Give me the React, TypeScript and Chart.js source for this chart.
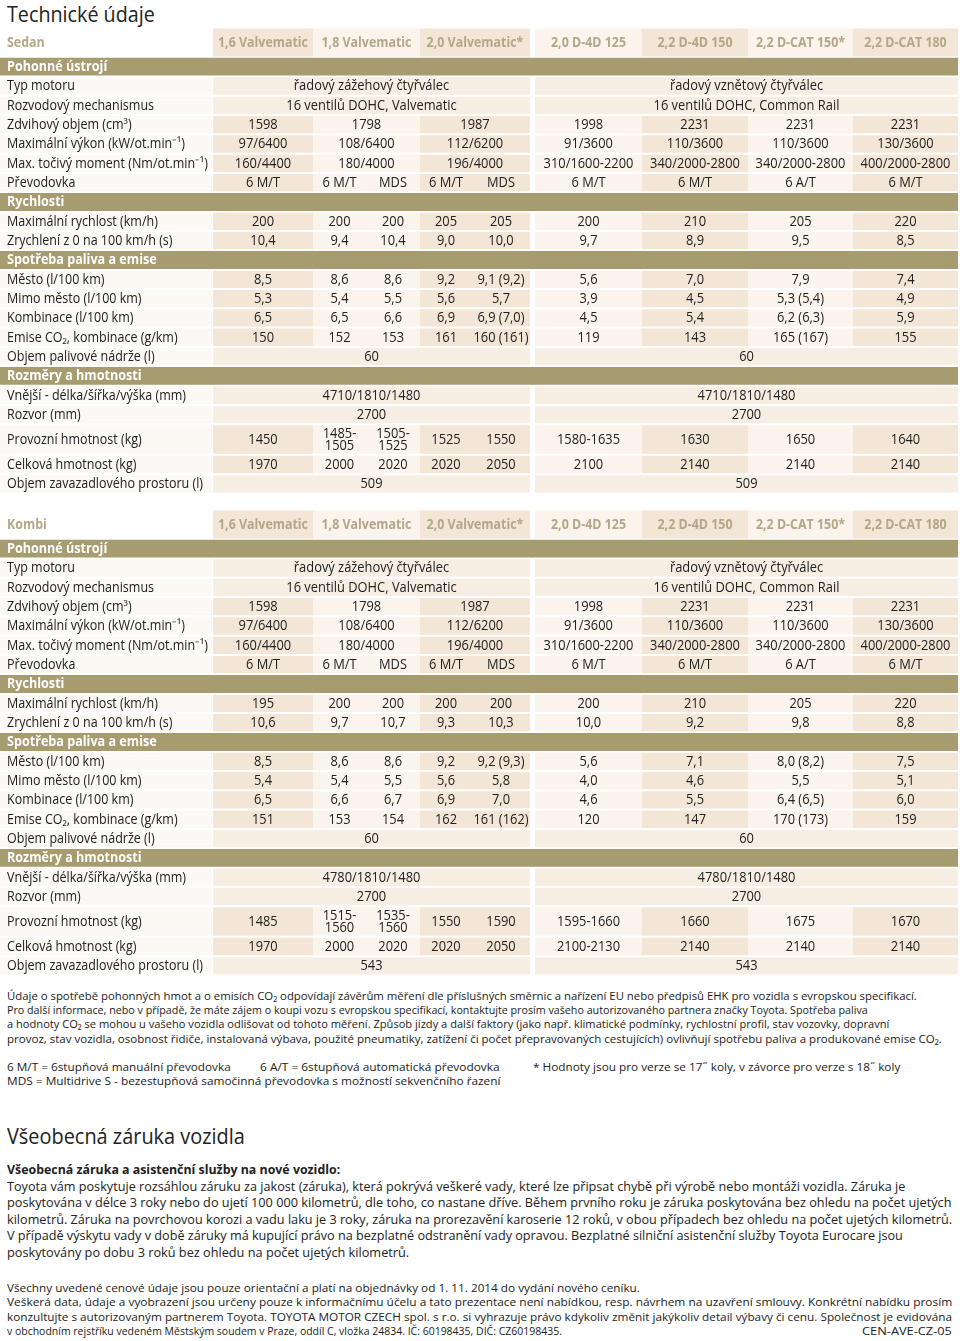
import React, { useEffect, useLayoutEffect, useRef } from "react";
import { Chart, registerables } from "chart.js";
Chart.register(...registerables);

// ---------------- data ----------------
const modelHeaders = ["1,6 Valvematic", "1,8 Valvematic", "2,0 Valvematic*", "2,0 D-4D 125", "2,2 D-4D 150", "2,2 D-CAT 150*", "2,2 D-CAT 180"];

const rowLabels = [
  "Pohonné ústrojí",
  "Typ motoru",
  "Rozvodový mechanismus",
  "Zdvihový objem (cm³)",
  "Maximální výkon (kW/ot.min⁻¹)",
  "Max. točivý moment (Nm/ot.min⁻¹)",
  "Převodovka",
  "Rychlosti",
  "Maximální rychlost (km/h)",
  "Zrychlení z 0 na 100 km/h (s)",
  "Spotřeba paliva a emise",
  "Město (l/100 km)",
  "Mimo město (l/100 km)",
  "Kombinace (l/100 km)",
  "Emise CO₂, kombinace (g/km)",
  "Objem palivové nádrže (l)",
  "Rozměry a hmotnosti",
  "Vnější - délka/šířka/výška (mm)",
  "Rozvor (mm)",
  "Provozní hmotnost (kg)",
  "Celková hmotnost (kg)",
  "Objem zavazadlového prostoru (l)",
];
const sectionLabels = ["Pohonné ústrojí", "Rychlosti", "Spotřeba paliva a emise", "Rozměry a hmotnosti"];
const tallLabels = ["Provozní hmotnost (kg)"];

// value slots: 1,6 | 1,8 M/T | 1,8 MDS | 2,0 M/T | 2,0 MDS | 2,0 D-4D 125 | 2,2 D-4D 150 | 2,2 D-CAT 150* | 2,2 D-CAT 180
// null = merged with the cell on its left
const typMotoru = ["řadový zážehový čtyřválec", null, null, null, null, "řadový vznětový čtyřválec", null, null, null];
const rozvodovyMechanismus = ["16 ventilů DOHC, Valvematic", null, null, null, null, "16 ventilů DOHC, Common Rail", null, null, null];
const zdvihovyObjem = ["1598", "1798", null, "1987", null, "1998", "2231", "2231", "2231"];
const maxVykon = ["97/6400", "108/6400", null, "112/6200", null, "91/3600", "110/3600", "110/3600", "130/3600"];
const maxMoment = ["160/4400", "180/4000", null, "196/4000", null, "310/1600-2200", "340/2000-2800", "340/2000-2800", "400/2000-2800"];
const prevodovka = ["6 M/T", "6 M/T", "MDS", "6 M/T", "MDS", "6 M/T", "6 M/T", "6 A/T", "6 M/T"];
const objemNadrze = ["60", null, null, null, null, "60", null, null, null];
const rozvor = ["2700", null, null, null, null, "2700", null, null, null];

const sedanMaxRychlost = ["200", "200", "200", "205", "205", "200", "210", "205", "220"];
const sedanZrychleni = ["10,4", "9,4", "10,4", "9,0", "10,0", "9,7", "8,9", "9,5", "8,5"];
const sedanMesto = ["8,5", "8,6", "8,6", "9,2", "9,1 (9,2)", "5,6", "7,0", "7,9", "7,4"];
const sedanMimoMesto = ["5,3", "5,4", "5,5", "5,6", "5,7", "3,9", "4,5", "5,3 (5,4)", "4,9"];
const sedanKombinace = ["6,5", "6,5", "6,6", "6,9", "6,9 (7,0)", "4,5", "5,4", "6,2 (6,3)", "5,9"];
const sedanEmise = ["150", "152", "153", "161", "160 (161)", "119", "143", "165 (167)", "155"];
const sedanRozmery = ["4710/1810/1480", null, null, null, null, "4710/1810/1480", null, null, null];
const sedanProvozni = ["1450", "1485-\n1505", "1505-\n1525", "1525", "1550", "1580-1635", "1630", "1650", "1640"];
const sedanCelkova = ["1970", "2000", "2020", "2020", "2050", "2100", "2140", "2140", "2140"];
const sedanZavazadla = ["509", null, null, null, null, "509", null, null, null];

const kombiMaxRychlost = ["195", "200", "200", "200", "200", "200", "210", "205", "220"];
const kombiZrychleni = ["10,6", "9,7", "10,7", "9,3", "10,3", "10,0", "9,2", "9,8", "8,8"];
const kombiMesto = ["8,5", "8,6", "8,6", "9,2", "9,2 (9,3)", "5,6", "7,1", "8,0 (8,2)", "7,5"];
const kombiMimoMesto = ["5,4", "5,4", "5,5", "5,6", "5,8", "4,0", "4,6", "5,5", "5,1"];
const kombiKombinace = ["6,5", "6,6", "6,7", "6,9", "7,0", "4,6", "5,5", "6,4 (6,5)", "6,0"];
const kombiEmise = ["151", "153", "154", "162", "161 (162)", "120", "147", "170 (173)", "159"];
const kombiRozmery = ["4780/1810/1480", null, null, null, null, "4780/1810/1480", null, null, null];
const kombiProvozni = ["1485", "1515-\n1560", "1535-\n1560", "1550", "1590", "1595-1660", "1660", "1675", "1670"];
const kombiCelkova = ["1970", "2000", "2020", "2020", "2050", "2100-2130", "2140", "2140", "2140"];
const kombiZavazadla = ["543", null, null, null, null, "543", null, null, null];

const sedanRows = [null, typMotoru, rozvodovyMechanismus, zdvihovyObjem, maxVykon, maxMoment, prevodovka,
  null, sedanMaxRychlost, sedanZrychleni,
  null, sedanMesto, sedanMimoMesto, sedanKombinace, sedanEmise, objemNadrze,
  null, sedanRozmery, rozvor, sedanProvozni, sedanCelkova, sedanZavazadla];
const kombiRows = [null, typMotoru, rozvodovyMechanismus, zdvihovyObjem, maxVykon, maxMoment, prevodovka,
  null, kombiMaxRychlost, kombiZrychleni,
  null, kombiMesto, kombiMimoMesto, kombiKombinace, kombiEmise, objemNadrze,
  null, kombiRozmery, rozvor, kombiProvozni, kombiCelkova, kombiZavazadla];

const footnoteLines = [
  "Údaje o spotřebě pohonných hmot a o emisích CO₂ odpovídají závěrům měření dle příslušných směrnic a nařízení EU nebo předpisů EHK pro vozidla s evropskou specifikací.",
  "Pro další informace, nebo v případě, že máte zájem o koupi vozu s evropskou specifikací, kontaktujte prosím vašeho autorizovaného partnera značky Toyota. Spotřeba paliva",
  "a hodnoty CO₂ se mohou u vašeho vozidla odlišovat od tohoto měření. Způsob jízdy a další faktory (jako např. klimatické podmínky, rychlostní profil, stav vozovky, dopravní",
  "provoz, stav vozidla, osobnost řidiče, instalovaná výbava, použité pneumatiky, zatížení či počet přepravovaných cestujících) ovlivňují spotřebu paliva a produkované emise CO₂.",
];
const warrantyLines = [
  "Toyota vám poskytuje rozsáhlou záruku za jakost (záruka), která pokrývá veškeré vady, které lze připsat chybě při výrobě nebo montáži vozidla. Záruka je",
  "poskytována v délce 3 roky nebo do ujetí 100 000 kilometrů, dle toho, co nastane dříve. Během prvního roku je záruka poskytována bez ohledu na počet ujetých",
  "kilometrů. Záruka na povrchovou korozi a vadu laku je 3 roky, záruka na prorezavění karoserie 12 roků, v obou případech bez ohledu na počet ujetých kilometrů.",
  "V případě výskytu vady v době záruky má kupující právo na bezplatné odstranění vady opravou. Bezplatné silniční asistenční služby Toyota Eurocare jsou",
  "poskytovány po dobu 3 roků bez ohledu na počet ujetých kilometrů.",
];
const finalLines = [
  "Všechny uvedené cenové údaje jsou pouze orientační a platí na objednávky od 1. 11. 2014 do vydání nového ceníku.",
  "Veškerá data, údaje a vyobrazení jsou určeny pouze k informačnímu účelu a tato prezentace není nabídkou, resp. návrhem na uzavření smlouvy. Konkrétní nabídku prosím",
  "konzultujte s autorizovaným partnerem Toyota. TOYOTA MOTOR CZECH spol. s r.o. si vyhrazuje právo kdykoliv změnit jakýkoliv detail výbavy či cenu. Společnost je evidována",
  "v obchodním rejstříku vedeném Městským soudem v Praze, oddíl C, vložka 24834. IČ: 60198435, DIČ: CZ60198435.",
];

// ---------------- layout / style ----------------
const W = 960;
const HEAD_H = 29;
const ROW_H = 19.33;
const TALL_H = 30.6;
const GAP = 2;
const TEXT_X = 7;
const LABEL_X1 = 212;
const TABLE_X1 = 958;
const SLOT_EDGES = [[213, 313], [313, 366], [366, 420], [420, 472], [472, 530], [535, 642], [642, 748], [748, 853], [853, 958]];
const SLOT_GROUP = [0, 1, 1, 2, 2, 3, 4, 5, 6];
const HEADER_SLOTS = [[0, 0], [1, 2], [3, 4], [5, 5], [6, 6], [7, 7], [8, 8]];

const C_DARK = "#f3e6d7";
const C_LIGHT = "#faf4ec";
const C_MID = "#f7eee3";
const C_LABEL = "#fcf9f5";
const C_SECTION = "#a79b70";
const C_HEAD_TEXT = "#b3a787";
const C_TEXT = "#222222";
const TABLE_FONT = '"Open Sans"';
const TEXT_SX = 0.92;
const HTML_FONT = '"Open Sans", sans-serif';

type Item = { text: string; xv: number; yv: number; align: CanvasTextAlign; weight: string; size: number; color: string };

function groupColor(g0: number, g1: number) {
  if (g0 !== g1) return C_MID;
  return g0 % 2 === 0 ? C_DARK : C_LIGHT;
}

function TableChart({ name, rows, top }: { name: string; rows: (string | null)[][]; top: number }) {
  const ref = useRef<HTMLCanvasElement>(null);
  const total = HEAD_H + rowLabels.reduce((s, l) => s + (tallLabels.includes(l) ? TALL_H : ROW_H), 0);
  const H = Math.ceil(total);

  useEffect(() => {
    const canvas = ref.current;
    if (!canvas) return;
    const items: Item[] = [];
    const headData: any[] = [], headColors: string[] = [];
    const secData: any[] = [];
    const rowData: any[] = [], rowColors: string[] = [];
    const tallData: any[] = [], tallColors: string[] = [];

    // header row
    const hc = HEAD_H / 2;
    items.push({ text: name, xv: TEXT_X, yv: hc, align: "left", weight: "bold", size: 13.5, color: C_HEAD_TEXT });
    modelHeaders.forEach((m, i) => {
      const [s0, s1] = HEADER_SLOTS[i];
      const x0 = SLOT_EDGES[s0][0], x1 = SLOT_EDGES[s1][1];
      headData.push({ x: [x0, x1], y: hc });
      headColors.push(groupColor(SLOT_GROUP[s0], SLOT_GROUP[s1]));
      items.push({ text: m, xv: (x0 + x1) / 2, yv: hc, align: "center", weight: "bold", size: 13.5, color: C_HEAD_TEXT });
    });

    let y = HEAD_H;
    rowLabels.forEach((label, r) => {
      const tall = tallLabels.includes(label);
      const h = tall ? TALL_H : ROW_H;
      const c = y + h / 2;
      if (sectionLabels.includes(label)) {
        secData.push({ x: [0, TABLE_X1], y: c });
        items.push({ text: label, xv: TEXT_X, yv: c, align: "left", weight: "bold", size: 13.7, color: "#ffffff" });
      } else {
        const dArr = tall ? tallData : rowData;
        const cArr = tall ? tallColors : rowColors;
        dArr.push({ x: [0, LABEL_X1], y: c });
        cArr.push(C_LABEL);
        items.push({ text: label, xv: TEXT_X, yv: c, align: "left", weight: "normal", size: 13.6, color: C_TEXT });
        const vals = rows[r] || [];
        let i = 0;
        while (i < vals.length) {
          let j = i;
          while (j + 1 < vals.length && vals[j + 1] === null && j + 1 !== 5) j++;
          const x0 = SLOT_EDGES[i][0], x1 = SLOT_EDGES[j][1];
          dArr.push({ x: [x0, x1], y: c });
          cArr.push(groupColor(SLOT_GROUP[i], SLOT_GROUP[j]));
          const txt = vals[i];
          if (txt) items.push({ text: txt, xv: (x0 + x1) / 2, yv: c, align: "center", weight: "normal", size: 14, color: C_TEXT });
          i = j + 1;
        }
      }
      y += h;
    });

    const base = { grouped: false, borderWidth: 0, borderSkipped: false, inflateAmount: 0 };
    const textPlugin = {
      id: "cellText" + name,
      afterDatasetsDraw(chart: any) {
        const { ctx, scales } = chart;
        const xs = scales.x, ys = scales.y;
        ctx.save();
        ctx.textBaseline = "middle";
        items.forEach((it) => {
          ctx.font = `${it.weight} ${it.size}px ${TABLE_FONT}`;
          ctx.fillStyle = it.color;
          const px = xs.getPixelForValue(it.xv);
          const py = ys.getPixelForValue(it.yv);
          const lines = it.text.split("\n");
          lines.forEach((ln, k) => {
            const dy = (k - (lines.length - 1) / 2) * 12.5;
            ctx.save();
            ctx.translate(px, py + dy + 0.5);
            ctx.scale(TEXT_SX, 1);
            ctx.textAlign = it.align;
            ctx.fillText(ln, 0, 0);
            ctx.restore();
          });
        });
        ctx.restore();
      },
    };

    const chart = new Chart(canvas, {
      type: "bar",
      data: {
        datasets: [
          { ...base, data: headData, backgroundColor: headColors, barThickness: HEAD_H - 1 },
          { ...base, data: secData, backgroundColor: C_SECTION, barThickness: ROW_H - GAP + 0.5 },
          { ...base, data: rowData, backgroundColor: rowColors, barThickness: ROW_H - GAP },
          { ...base, data: tallData, backgroundColor: tallColors, barThickness: TALL_H - GAP },
        ] as any,
      },
      options: {
        indexAxis: "y",
        animation: false,
        responsive: false,
        maintainAspectRatio: false,
        layout: { padding: 0 },
        plugins: { legend: { display: false }, tooltip: { enabled: false } },
        scales: {
          x: { type: "linear", min: 0, max: W, display: false, offset: false },
          y: { type: "linear", min: 0, max: H, reverse: true, display: false, offset: false },
        },
      } as any,
      plugins: [textPlugin],
    });
    return () => chart.destroy();
  }, [name, rows]);

  return <canvas ref={ref} width={W} height={H} style={{ position: "absolute", left: 0, top, display: "block" }} />;
}

function FitText({ text, left, center, width, size, lh, weight = 400, color = C_TEXT }: any) {
  const ref = useRef<HTMLSpanElement>(null);
  useLayoutEffect(() => {
    const el = ref.current;
    if (!el) return;
    el.style.transform = "none";
    const w = el.offsetWidth;
    if (w > 0) el.style.transform = `scaleX(${width / w})`;
  });
  return (
    <div style={{ position: "absolute", left, top: center - lh / 2, height: lh, lineHeight: lh + "px", fontSize: size, fontWeight: weight, color, whiteSpace: "nowrap", fontFamily: HTML_FONT }}>
      <span ref={ref} style={{ display: "inline-block", transformOrigin: "0 50%" }}>{text}</span>
    </div>
  );
}

const footWidths = [910, 861, 882, 935];
const warrantyWidths = [898, 945, 945, 896, 402];
const finalWidths = [633, 945, 945, 555];

export default function App() {
  return (
    <div style={{ position: "absolute", left: 0, top: 0, width: W, height: 1341, background: "#fff", overflow: "hidden" }}>
      <FitText text="Technické údaje" left={7} center={13} width={148} size={22} lh={28} color="#222" />
      <TableChart name="Sedan" rows={sedanRows} top={28} />
      <TableChart name="Kombi" rows={kombiRows} top={510} />
      {footnoteLines.map((t, i) => (
        <FitText key={"f" + i} text={t} left={7} center={996 + i * 14.2} width={footWidths[i]} size={11.5} lh={14} />
      ))}
      <FitText text="6 M/T = 6stupňová manuální převodovka" left={7} center={1067} width={224} size={11.5} lh={14} />
      <FitText text="6 A/T = 6stupňová automatická převodovka" left={260} center={1067} width={240} size={11.5} lh={14} />
      <FitText text="* Hodnoty jsou pro verze se 17˝ koly, v závorce pro verze s 18˝ koly" left={533} center={1067} width={367} size={11.5} lh={14} />
      <FitText text="MDS = Multidrive S - bezestupňová samočinná převodovka s možností sekvenčního řazení" left={7} center={1081} width={493} size={11.5} lh={14} />
      <FitText text="Všeobecná záruka vozidla" left={7} center={1135} width={238} size={22} lh={28} color="#222" />
      <FitText text="Všeobecná záruka a asistenční služby na nové vozidlo:" left={7} center={1169} width={333} size={13} lh={16} weight={700} />
      {warrantyLines.map((t, i) => (
        <FitText key={"w" + i} text={t} left={7} center={1185.5 + i * 16.5} width={warrantyWidths[i]} size={13} lh={16} />
      ))}
      {finalLines.map((t, i) => (
        <FitText key={"e" + i} text={t} left={7} center={1288 + i * 14.4} width={finalWidths[i]} size={11.5} lh={14} />
      ))}
      <FitText text="CEN-AVE-CZ-05" left={862} center={1331.2} width={90} size={11.5} lh={14} />
    </div>
  );
}
